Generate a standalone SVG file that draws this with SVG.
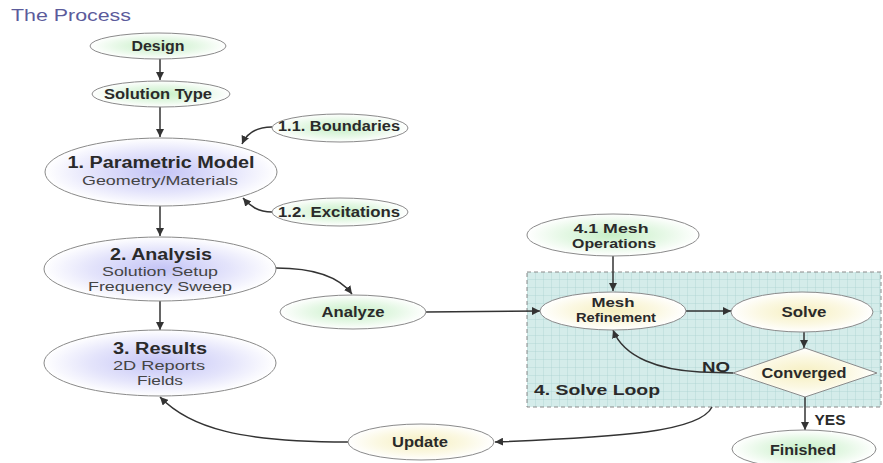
<svg xmlns="http://www.w3.org/2000/svg" width="883" height="463" viewBox="0 0 883 463">
  <style>
    .node { stroke: #8a8a8a; stroke-width: 1; }
    .lbl { font-family: "Liberation Sans", Arial, sans-serif; font-weight: bold; fill: #2a2a2a; text-anchor: middle; }
    .sub { font-family: "Liberation Sans", Arial, sans-serif; fill: #444; text-anchor: middle; }
    .conn { fill: none; stroke: #333; stroke-width: 1.5; marker-end: url(#arrow); }
    .title { font-family: "Liberation Sans", Arial, sans-serif; fill: #5b5b9b; }
  </style>
  <defs>
    <radialGradient id="gGreen" cx="50%" cy="50%" r="50%">
      <stop offset="0" stop-color="#c6efc6"/>
      <stop offset="0.6" stop-color="#e6f8e6"/>
      <stop offset="1" stop-color="#ffffff"/>
    </radialGradient>
    <radialGradient id="gBlue" cx="50%" cy="50%" r="50%">
      <stop offset="0" stop-color="#c4c4f6"/>
      <stop offset="0.6" stop-color="#e4e4fb"/>
      <stop offset="1" stop-color="#ffffff"/>
    </radialGradient>
    <radialGradient id="gYellow" cx="50%" cy="50%" r="50%">
      <stop offset="0" stop-color="#f6efc0"/>
      <stop offset="0.6" stop-color="#fbf8e2"/>
      <stop offset="1" stop-color="#ffffff"/>
    </radialGradient>
    <pattern id="grid" width="8" height="8" patternUnits="userSpaceOnUse">
      <rect width="8" height="8" fill="#d4ecea"/>
      <path d="M8,0 L8,8 M0,8 L8,8" stroke="#a6cece" stroke-width="0.7" fill="none"/>
    </pattern>
    <marker id="arrow" markerUnits="userSpaceOnUse" markerWidth="9" markerHeight="8" refX="8" refY="4" orient="auto">
      <path d="M0,0 L8,4 L0,8 z" fill="#333"/>
    </marker>
  </defs>

  <text class="title" x="11" y="21" font-size="16" textLength="120" lengthAdjust="spacingAndGlyphs">The Process</text>

  <!-- Solve loop container -->
  <g id="solve-loop">
    <rect x="527" y="272" width="354" height="135" fill="url(#grid)" stroke="#8a8a8a" stroke-width="1" stroke-dasharray="4 3"/>
    <text class="lbl" x="597" y="395" font-size="15" textLength="126" lengthAdjust="spacingAndGlyphs" fill="#3a3a3a">4. Solve Loop</text>
  </g>

  <!-- connectors -->
  <g id="connectors">
    <path class="conn" d="M160,59 L160,80"/>
    <path class="conn" d="M160,107 L160,137"/>
    <path class="conn" d="M272,127 C256,127 247,133 242,144"/>
    <path class="conn" d="M272,212 C258,212 250,206 243,198"/>
    <path class="conn" d="M160,206 L160,236"/>
    <path class="conn" d="M276,268 C318,268 340,278 352,294"/>
    <path class="conn" d="M160,301 L160,330"/>
    <path class="conn" d="M426,312 L540,311"/>
    <path class="conn" d="M613,256 L613,291"/>
    <path class="conn" d="M686,311 L731,311"/>
    <path class="conn" d="M804,332 L804,348"/>
    <path class="conn" d="M733,373 L700,372 C660,370 624,358 613,330"/>
    <path class="conn" d="M805,397 L805,430"/>
    <path class="conn" d="M712,407 C700,432 620,437 495,442"/>
    <path class="conn" d="M348,442 C240,442 190,428 160,397"/>
  </g>

  <g id="design">
    <ellipse class="node" cx="158" cy="46" rx="68" ry="13" fill="url(#gGreen)"/>
    <text class="lbl" x="158" y="51" font-size="14" textLength="53" lengthAdjust="spacingAndGlyphs">Design</text>
  </g>
  <g id="solution-type">
    <ellipse class="node" cx="161" cy="94" rx="69" ry="13" fill="url(#gGreen)"/>
    <text class="lbl" x="158" y="99" font-size="14" textLength="108" lengthAdjust="spacingAndGlyphs">Solution Type</text>
  </g>
  <g id="boundaries">
    <ellipse class="node" cx="340" cy="128" rx="68" ry="14" fill="url(#gGreen)"/>
    <text class="lbl" x="339" y="131" font-size="14" textLength="122" lengthAdjust="spacingAndGlyphs">1.1. Boundaries</text>
  </g>
  <g id="excitations">
    <ellipse class="node" cx="340" cy="212" rx="68" ry="14" fill="url(#gGreen)"/>
    <text class="lbl" x="339" y="217" font-size="14" textLength="122" lengthAdjust="spacingAndGlyphs">1.2. Excitations</text>
  </g>
  <g id="parametric-model">
    <ellipse class="node" cx="161" cy="172" rx="116" ry="34" fill="url(#gBlue)"/>
    <text class="lbl" x="161" y="168" font-size="16" textLength="187" lengthAdjust="spacingAndGlyphs">1. Parametric Model</text>
    <text class="sub" x="160" y="185" font-size="13" textLength="156" lengthAdjust="spacingAndGlyphs">Geometry/Materials</text>
  </g>
  <g id="analysis">
    <ellipse class="node" cx="160" cy="269" rx="116" ry="32" fill="url(#gBlue)"/>
    <text class="lbl" x="161" y="260" font-size="16" textLength="102" lengthAdjust="spacingAndGlyphs">2. Analysis</text>
    <text class="sub" x="160" y="276" font-size="13" textLength="116" lengthAdjust="spacingAndGlyphs">Solution Setup</text>
    <text class="sub" x="160" y="291" font-size="13" textLength="144" lengthAdjust="spacingAndGlyphs">Frequency Sweep</text>
  </g>
  <g id="results">
    <ellipse class="node" cx="160" cy="363" rx="116" ry="33" fill="url(#gBlue)"/>
    <text class="lbl" x="160" y="354" font-size="16" textLength="94" lengthAdjust="spacingAndGlyphs">3. Results</text>
    <text class="sub" x="159" y="370" font-size="13" textLength="92" lengthAdjust="spacingAndGlyphs">2D Reports</text>
    <text class="sub" x="160" y="385" font-size="13" textLength="46" lengthAdjust="spacingAndGlyphs">Fields</text>
  </g>
  <g id="analyze">
    <ellipse class="node" cx="353" cy="312" rx="73" ry="17" fill="url(#gGreen)"/>
    <text class="lbl" x="353" y="317" font-size="14" textLength="63" lengthAdjust="spacingAndGlyphs">Analyze</text>
  </g>
  <g id="update">
    <ellipse class="node" cx="421" cy="442" rx="73" ry="18" fill="url(#gYellow)"/>
    <text class="lbl" x="420" y="447" font-size="14" textLength="56" lengthAdjust="spacingAndGlyphs">Update</text>
  </g>
  <g id="mesh-operations">
    <ellipse class="node" cx="613" cy="235" rx="86" ry="21" fill="url(#gGreen)"/>
    <text class="lbl" x="611" y="233" font-size="13" textLength="75" lengthAdjust="spacingAndGlyphs">4.1 Mesh</text>
    <text class="lbl" x="614" y="248" font-size="13" textLength="84" lengthAdjust="spacingAndGlyphs">Operations</text>
  </g>
  <g id="mesh-refinement">
    <ellipse class="node" cx="613" cy="311" rx="73" ry="19" fill="url(#gYellow)"/>
    <text class="lbl" x="613" y="307" font-size="13" textLength="43" lengthAdjust="spacingAndGlyphs">Mesh</text>
    <text class="lbl" x="616" y="322" font-size="13" textLength="80" lengthAdjust="spacingAndGlyphs">Refinement</text>
  </g>
  <g id="solve">
    <ellipse class="node" cx="802" cy="312" rx="71" ry="20" fill="url(#gYellow)"/>
    <text class="lbl" x="804" y="317" font-size="14" textLength="45" lengthAdjust="spacingAndGlyphs">Solve</text>
  </g>
  <g id="converged">
    <polygon class="node" points="733,373 805,348 877,373 805,397" fill="url(#gYellow)"/>
    <text class="lbl" x="804" y="378" font-size="14" textLength="85" lengthAdjust="spacingAndGlyphs">Converged</text>
    <text class="lbl" x="716" y="372" font-size="14" textLength="28" lengthAdjust="spacingAndGlyphs">NO</text>
    <text class="lbl" x="830" y="425" font-size="14" textLength="31" lengthAdjust="spacingAndGlyphs">YES</text>
  </g>
  <g id="finished">
    <ellipse class="node" cx="804" cy="449" rx="72" ry="19" fill="url(#gGreen)"/>
    <text class="lbl" x="803" y="455" font-size="14" textLength="66" lengthAdjust="spacingAndGlyphs">Finished</text>
  </g>
</svg>
